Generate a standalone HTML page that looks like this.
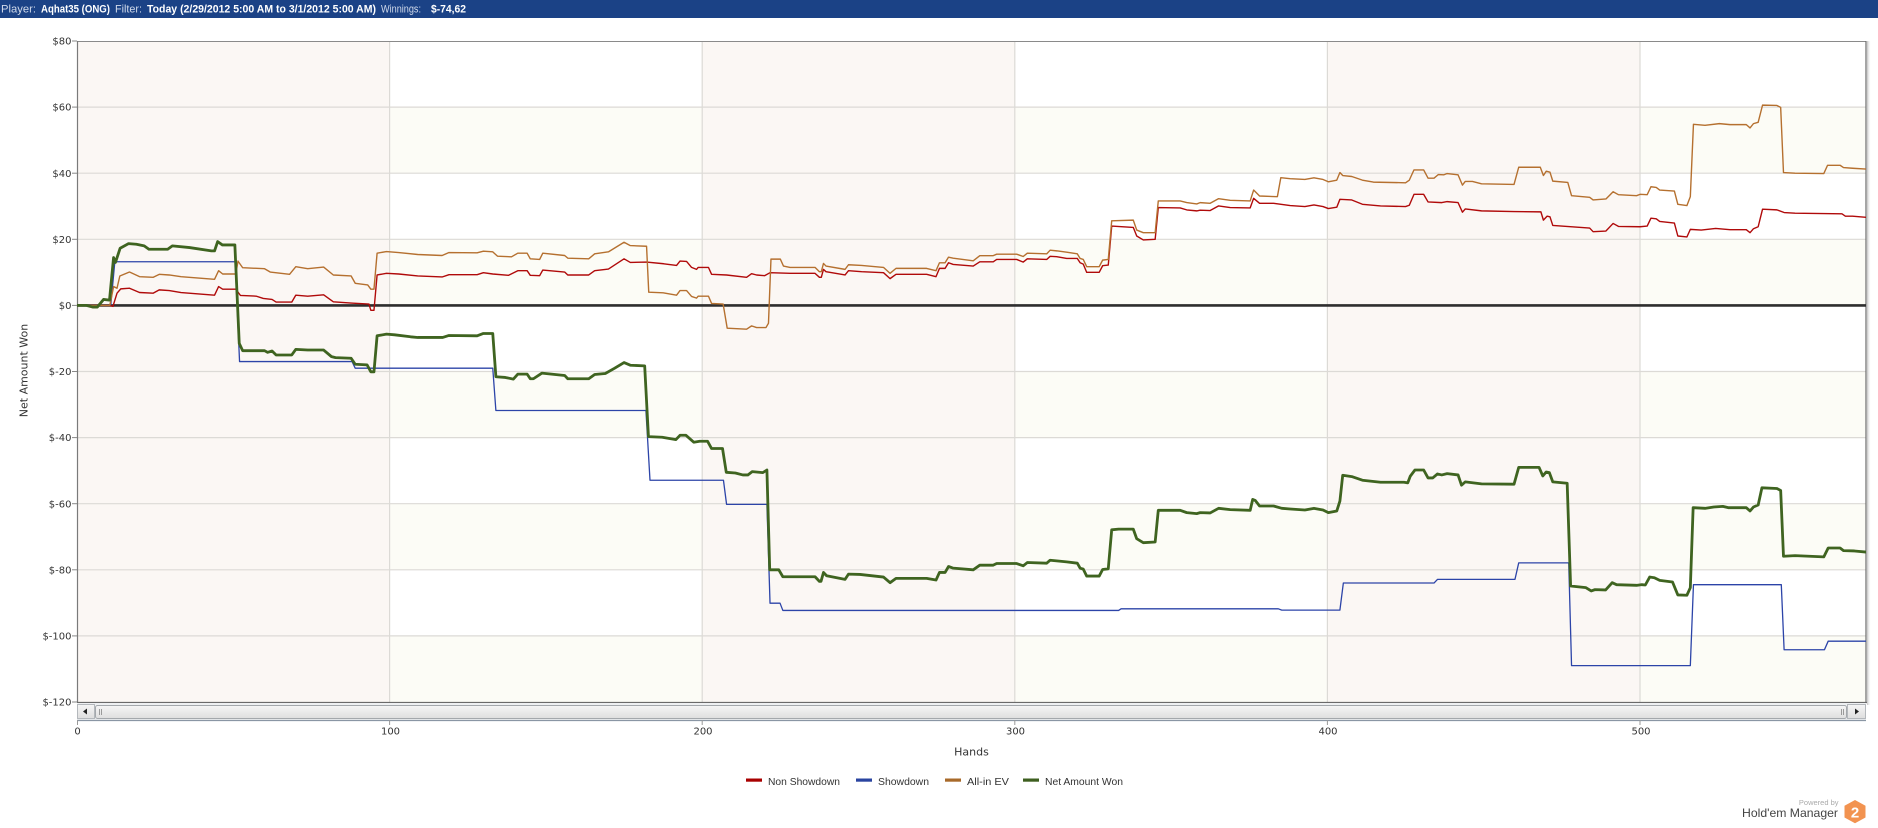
<!DOCTYPE html>
<html><head><meta charset="utf-8"><style>
html,body{margin:0;padding:0;background:#fff;}
svg{display:block;}
</style></head><body>
<svg width="1878" height="828" viewBox="0 0 1878 828" xmlns="http://www.w3.org/2000/svg">
<defs>
<clipPath id="pc"><rect x="77" y="41" width="1789" height="661"/></clipPath>
<linearGradient id="sb" x1="0" y1="0" x2="0" y2="1"><stop offset="0" stop-color="#f6f6f6"/><stop offset="1" stop-color="#dedede"/></linearGradient>
<linearGradient id="sh" x1="0" y1="0" x2="1" y2="0"><stop offset="0" stop-color="#999" stop-opacity="0.6"/><stop offset="1" stop-color="#fff" stop-opacity="0"/></linearGradient>
</defs>
<rect width="1878" height="828" fill="#fff"/>
<!-- header -->
<rect x="0" y="0" width="1878" height="18" fill="#1b4286"/>
<g font-family="Liberation Sans, Arial, sans-serif" font-size="11">
<text x="1" y="12.5" fill="#d0d9ea" textLength="35" lengthAdjust="spacingAndGlyphs">Player:</text>
<text x="41" y="12.5" fill="#fff" font-weight="bold" textLength="69" lengthAdjust="spacingAndGlyphs">Aqhat35 (ONG)</text>
<text x="115" y="12.5" fill="#d0d9ea" textLength="27" lengthAdjust="spacingAndGlyphs">Filter:</text>
<text x="147" y="12.5" fill="#fff" font-weight="bold" textLength="229" lengthAdjust="spacingAndGlyphs">Today (2/29/2012 5:00 AM to 3/1/2012 5:00 AM)</text>
<text x="381" y="12.5" fill="#d0d9ea" textLength="40" lengthAdjust="spacingAndGlyphs">Winnings:</text>
<text x="431" y="12.5" fill="#fff" font-weight="bold" textLength="35" lengthAdjust="spacingAndGlyphs">$-74,62</text>
</g>
<!-- plot backgrounds -->
<g>
<rect x="77" y="41" width="312.6" height="661" fill="#fbf7f4"/>
<rect x="702.2" y="41" width="312.6" height="661" fill="#fbf7f4"/>
<rect x="1327.4" y="41" width="312.6" height="661" fill="#fbf7f4"/>
<g fill="#fcfcf6">
<rect x="389.6" y="107.1" width="312.6" height="66.1"/><rect x="389.6" y="239.3" width="312.6" height="66.1"/><rect x="389.6" y="371.5" width="312.6" height="66.1"/><rect x="389.6" y="503.7" width="312.6" height="66.1"/><rect x="389.6" y="635.9" width="312.6" height="66.1"/>
<rect x="1014.8" y="107.1" width="312.6" height="66.1"/><rect x="1014.8" y="239.3" width="312.6" height="66.1"/><rect x="1014.8" y="371.5" width="312.6" height="66.1"/><rect x="1014.8" y="503.7" width="312.6" height="66.1"/><rect x="1014.8" y="635.9" width="312.6" height="66.1"/>
<rect x="1640" y="107.1" width="226" height="66.1"/><rect x="1640" y="239.3" width="226" height="66.1"/><rect x="1640" y="371.5" width="226" height="66.1"/><rect x="1640" y="503.7" width="226" height="66.1"/><rect x="1640" y="635.9" width="226" height="66.1"/>
</g>
</g>
<!-- gridlines -->
<g stroke="#dcdad6" stroke-width="1.2">
<line x1="77" x2="1866" y1="107.1" y2="107.1"/><line x1="77" x2="1866" y1="173.2" y2="173.2"/><line x1="77" x2="1866" y1="239.3" y2="239.3"/><line x1="77" x2="1866" y1="371.5" y2="371.5"/><line x1="77" x2="1866" y1="437.6" y2="437.6"/><line x1="77" x2="1866" y1="503.7" y2="503.7"/><line x1="77" x2="1866" y1="569.8" y2="569.8"/><line x1="77" x2="1866" y1="635.9" y2="635.9"/>
<line x1="389.6" x2="389.6" y1="41" y2="702"/><line x1="702.2" x2="702.2" y1="41" y2="702"/><line x1="1014.8" x2="1014.8" y1="41" y2="702"/><line x1="1327.4" x2="1327.4" y1="41" y2="702"/><line x1="1640" x2="1640" y1="41" y2="702"/>
</g>
<!-- axes border -->
<line x1="77" x2="1866" y1="41.5" y2="41.5" stroke="#8a8a8a" stroke-width="1"/>
<line x1="77.5" x2="77.5" y1="41" y2="702" stroke="#7a7a7a" stroke-width="1.2"/>
<rect x="1867" y="41" width="4" height="664" fill="url(#sh)"/>
<line x1="1866" x2="1866" y1="41" y2="703" stroke="#6a6a6a" stroke-width="1.2"/>
<line x1="77" x2="1867" y1="702.5" y2="702.5" stroke="#6a6a6a" stroke-width="1.2"/>
<!-- zero line -->
<line x1="77" x2="1866" y1="305.4" y2="305.4" stroke="#2e2e2e" stroke-width="2.6"/>
<!-- series -->
<g clip-path="url(#pc)">
<g transform="matrix(3.126 0 0 -3.305 77 305.4)" fill="none" stroke-linejoin="round">
<polyline vector-effect="non-scaling-stroke" stroke="#2c44a8" stroke-width="1.3" points="0,0 10.8,0 12.1,13.2 50.6,13.2 52,-17 88,-17 89,-19 133,-19 134,-31.8 182,-31.8 183.3,-52.9 206.8,-52.9 207.8,-60.2 220.7,-60.2 221.7,-90.1 224.9,-90.1 225.8,-92.3 333.2,-92.3 334,-91.8 384.3,-91.8 385.4,-92.2 404,-92.2 405.1,-84 434.1,-84 435.2,-82.9 460,-82.9 461.2,-77.9 477.2,-77.9 478.1,-109 516.1,-109 517.1,-84.5 545.2,-84.5 546.1,-104.2 559,-104.2 560.2,-101.6 573,-101.6"/>
<polyline vector-effect="non-scaling-stroke" stroke="#b00a0a" stroke-width="1.4" points="0,0 10.5,0 11.5,-0.3 12.8,3.7 14,5 16.8,5.2 20,3.9 24.4,3.7 26.3,4.7 29.5,4.5 33.3,3.9 44,3.1 45.3,5.7 46.6,4.9 50.8,4.9 52.3,3 57.3,2.8 59.6,2.1 62.4,1.8 63.7,1 68.7,1 70,3.1 73.8,2.8 78.9,3.2 82,1.1 87.7,0.7 93.4,0.4 94,-1.5 95,-1.5 96,9.2 99,9.7 102.9,9.5 109,8.9 116.8,8.6 119,9.3 128,9.3 130,9.9 133,9.5 138,9.1 141,10.5 144,10.5 145,9.1 148,9 149,10.7 156,10.1 157,9.2 163.7,9.2 165.6,10.5 170,11 175,14.1 177,13 182.2,13.1 187.7,12.6 191.8,12.1 192.9,13.4 195,13.3 196.6,11.5 198.2,10.9 198.7,11.5 202,11.5 203,9.4 207.8,9.2 214.2,8.5 215.8,9.6 217.4,9.2 220,9 221.7,9.9 228.1,9.7 236.1,9.7 237.5,8.5 238.1,8.5 238.8,10.9 239.6,10.2 245.7,9.2 246.8,10.5 251,10.2 258,9.9 260.1,8.1 262,9.4 271.8,9.4 274.8,8.7 275.9,11.2 277.7,11.2 278.8,12.9 280.3,12.4 286.7,11.9 288.8,13.2 293.1,13.2 294.2,13.9 300.6,13.9 302.7,13.1 304,14.1 310.2,13.9 311.3,14.85 313.4,14.75 316.6,14.2 320,14.2 320.9,12.9 321.9,12.5 323,10 327,10 328.1,12 329.9,12.2 331,24 337.9,23.6 339,21 341.1,19.8 344.9,20 345.9,29.6 352.9,29.5 355,28.9 358.2,28.6 359.3,28.8 362.5,28.7 365.2,30.1 368.9,29.6 375.3,29.5 376.4,32.4 378.3,30.9 382.8,30.9 388.1,30.2 392.8,29.9 395.7,30.4 398.6,29.9 400.3,29.3 403,29.7 404,32.1 407.8,31.9 411.2,30.6 417,30.1 425,29.9 426.2,30.3 427.7,33.6 430.8,33.6 432.2,31.3 436.6,31.1 438.3,31.4 441.8,31.1 443.2,28.2 444.1,29.2 449.3,28.6 459.7,28.4 468.3,28.3 469.1,25.8 470.3,27 471.2,26.8 472.1,24.2 483.9,23.4 485,22.3 489.1,22.5 491.4,24.8 493.1,23.9 500,23.8 502.3,24 503.5,26.4 505.2,26.2 506.3,25.4 511,24.9 512.1,21 515,20.7 516.1,23 519.6,22.8 524.2,23.3 528.8,22.9 534,22.9 535.2,22 536.3,23.2 537.8,23.8 539.2,29.1 543.8,28.9 546.1,28.1 549.6,27.9 564.6,27.7 565.7,27 568,27 573,26.6"/>
<polyline vector-effect="non-scaling-stroke" stroke="#b5702f" stroke-width="1.4" points="0,0 10.5,0 11.7,5.7 12.8,5.2 13.7,8.9 16.8,10.1 20,8.7 24.4,8.5 26.3,9.4 29.5,9.2 33.3,8.7 44,7.9 45.3,10.5 46.6,9.5 50.8,9.5 51.5,13.4 53,11.4 60,11.1 61.8,10.1 68,9.4 70,11.7 73.8,11.1 78.9,11.6 82,9.2 87.7,8.9 89,6.7 93,6.2 94,4.9 95,4.9 96,15.8 99,16.3 102.9,16 109,15.4 116.8,15.1 119,16 128,15.9 130,16.4 133,16.2 134.5,14.9 139,14.7 141,15.8 144,15.8 145,14.1 148,13.9 149,15.8 156,15.1 157,14.3 163.7,14.1 165.6,15.6 170,16.2 175,19.1 177,18.1 182.2,17.9 182.9,4 187.5,3.8 191.8,3.1 192.9,4.5 195,4.5 196.6,2.7 198.2,2.2 198.7,2.8 202,2.8 203,0.6 206.7,0.4 208,-6.9 214.2,-7.2 215.8,-6.2 217.4,-6.7 220.4,-6.7 221.2,-5.4 222,14 225,14 226,11.9 228.1,11.5 236.1,11.5 237.5,10.2 238.1,10.2 238.8,12.7 239.6,11.9 245.7,10.9 246.8,12.3 251,12.1 258,11.5 260.1,9.7 262,11.2 271.8,11.2 274.8,10.5 275.9,12.9 277.7,12.9 278.8,14.6 280.3,14.3 286.7,13.5 288.8,15.05 293.1,15.05 294.2,15.5 300.6,15.5 302.7,14.8 304,15.8 310.2,15.6 311.3,16.7 313.4,16.5 316.6,16.1 320,15.6 320.9,14.2 321.9,13.9 323,11.7 327,11.7 328.1,13.7 329.9,13.9 331,25.6 337.9,25.8 339,22.8 341.1,22 344.9,22 345.9,31.6 352.9,31.6 355,31.1 358.2,30.7 359.3,31.1 362.5,30.9 365.2,32.3 368.9,31.8 375.3,31.6 376.4,34.9 378.3,33.1 384,32.9 385.1,38.65 388.1,38.35 392.8,38.1 395.7,38.6 398.6,38.1 400.3,37.4 403,37.9 404,40.2 404.9,39.3 407.8,39 411.2,37.9 414.7,37.3 425,37.1 426.2,37.9 427.7,41 430.8,41 432.2,38.5 434.1,38.5 435.5,39.6 437.2,39.5 438.3,39.9 441.8,39.5 443.2,36.4 444.1,37.5 446.4,37.5 449.3,36.8 459.7,36.6 461.2,41.8 468.1,41.8 469.1,39.3 470,40.6 471.2,40.3 472.1,37.6 476.9,37.2 478.1,33.2 483.9,32.7 485,31.9 489.1,32.2 491.4,34.4 493.1,33.5 498.9,33.2 500,33.6 502.3,33.5 503.5,35.9 505.2,35.7 506.3,34.9 511,34.6 512.1,30.6 515,30.2 516.1,32.9 517.1,54.8 520.8,54.5 525.4,55 528.8,54.7 534,54.7 535.2,53.7 536.3,55 537.8,55.4 539.2,60.6 543.8,60.5 545,59.9 545.9,40.2 549.6,40 558.8,39.9 560,42.4 564,42.4 565.1,41.7 568,41.5 573,41.2"/>
<polyline vector-effect="non-scaling-stroke" stroke="#3f6420" stroke-width="2.8" points="0,0 3,0 5,-0.5 6.5,-0.5 8.5,1.8 10.4,1.6 11.7,14.5 12.3,13 13.8,17.3 16.5,18.7 19,18.5 21.5,18 23,17 29,17 30.5,18 36,17.5 43,16.5 44,16.5 45,19.3 46.5,18.3 50.5,18.3 51.9,-11.5 53,-13.7 60,-13.7 61,-14.2 62.4,-13.8 63.7,-15 68.7,-15 70,-13.3 73.8,-13.5 78.9,-13.5 81.4,-15.5 82.7,-15.8 87.7,-16 89,-17.8 92.8,-18 94,-20.1 95,-20.1 96,-9.2 99,-8.7 101.6,-8.9 106.7,-9.5 109,-9.7 117,-9.7 119,-9.1 128,-9.2 130,-8.5 133,-8.5 134,-21.6 137,-21.8 139.6,-22.3 141,-20.8 144,-20.8 145,-22.2 146,-22.2 148.7,-20.5 156,-21.2 157,-22.2 163.7,-22.2 165.6,-20.9 169,-20.6 172,-19 175,-17.3 177,-18.1 181.6,-18.3 182.8,-39.7 187.2,-39.9 191.6,-40.6 192.9,-39.3 194.8,-39.3 197.3,-41.4 199.2,-41.1 201.7,-41.1 203,-43.3 206.5,-43.3 207.7,-50.5 210.6,-50.7 213,-51.3 214.6,-51.3 216,-50.3 219.4,-50.6 220.7,-49.8 221.6,-80 224.5,-80 225.8,-82.1 236.1,-82.1 237.5,-83.5 238,-83.5 238.8,-80.8 239.8,-81.8 245.7,-82.9 246.8,-81.3 250.5,-81.4 258,-82.2 260.1,-83.9 262,-82.6 271.8,-82.6 274.8,-83.1 275.9,-80.8 277.7,-80.8 278.8,-79 280.3,-79.5 286.7,-80 288.8,-78.6 293.1,-78.6 294.2,-78.1 300.6,-78.1 302.7,-78.8 304,-77.8 310.2,-78 311.3,-77.1 313.4,-77.3 316.6,-77.6 320,-78 320.9,-79.5 321.9,-79.8 323,-81.9 327,-81.9 328.1,-79.9 329.9,-79.7 331,-67.9 333.2,-67.7 337.9,-67.7 339,-70.6 341.1,-71.8 344.9,-71.6 345.9,-62 352.9,-62 355,-62.7 358.2,-63 359.3,-62.7 362.5,-62.8 365.2,-61.4 368.9,-61.8 375.3,-62 376.1,-58.7 376.9,-59 378.3,-60.7 382.8,-60.7 385.4,-61.4 388.1,-61.6 392.8,-61.9 395.7,-61.4 398.6,-61.9 400.3,-62.7 403,-62.2 404,-59.2 404.9,-51.4 407.8,-51.8 411.2,-52.9 417,-53.5 424.5,-53.5 425.7,-53.7 426.5,-51.7 428,-49.8 430.8,-49.8 432.2,-52.2 433.7,-52.2 435.2,-51 436.6,-51.3 438.3,-50.9 441.8,-51.3 442.9,-54.4 444.1,-53.4 449.3,-54 459.7,-54.1 461.2,-49 467.7,-49 468.9,-51.6 470,-50.4 471,-50.6 472.1,-53.4 476.7,-53.8 477.8,-84.9 482.7,-85.4 484.4,-86.4 485.6,-86 489,-86.1 491.1,-83.9 492.5,-84.5 498.9,-84.7 500.6,-84.5 501.7,-84.6 503.1,-82.2 504.6,-82.4 506.3,-83.2 510.4,-83.7 512.1,-87.6 515,-87.7 516.1,-85.4 517,-61.2 520.8,-61.4 523.6,-61 526.5,-60.8 528.2,-61.2 534,-61.2 535.2,-62.2 536.3,-61 537.8,-60.4 539,-55.2 543.8,-55.4 545,-56 545.9,-75.9 549.6,-75.7 558.8,-76.1 560.2,-73.4 564,-73.4 565.1,-74.2 568.6,-74.3 573,-74.7"/>
</g>
</g>
<!-- y ticks & labels -->
<g stroke="#888" stroke-width="1">
<line x1="72" x2="77" y1="41" y2="41"/><line x1="72" x2="77" y1="107.1" y2="107.1"/><line x1="72" x2="77" y1="173.2" y2="173.2"/><line x1="72" x2="77" y1="239.3" y2="239.3"/><line x1="72" x2="77" y1="305.4" y2="305.4"/><line x1="72" x2="77" y1="371.5" y2="371.5"/><line x1="72" x2="77" y1="437.6" y2="437.6"/><line x1="72" x2="77" y1="503.7" y2="503.7"/><line x1="72" x2="77" y1="569.8" y2="569.8"/><line x1="72" x2="77" y1="635.9" y2="635.9"/><line x1="72" x2="77" y1="702" y2="702"/>
</g>
<g font-family="DejaVu Sans, Verdana, sans-serif" font-size="10" fill="#333" text-anchor="end">
<text x="71.5" y="44.6">$80</text><text x="71.5" y="110.7">$60</text><text x="71.5" y="176.8">$40</text><text x="71.5" y="242.9">$20</text><text x="71.5" y="309">$0</text><text x="71.5" y="375.1">$-20</text><text x="71.5" y="441.2">$-40</text><text x="71.5" y="507.3">$-60</text><text x="71.5" y="573.4">$-80</text><text x="71.5" y="639.5">$-100</text><text x="71.5" y="705.6">$-120</text>
</g>
<text transform="translate(27.5,370.5) rotate(-90)" font-family="DejaVu Sans, Verdana, sans-serif" font-size="11" fill="#333" text-anchor="middle">Net Amount Won</text>
<!-- scrollbar -->
<rect x="77" y="703" width="1789" height="17" fill="#eef0f2"/>
<rect x="77.5" y="704.5" width="17" height="14" fill="url(#sb)" stroke="#b4b8bc" stroke-width="1"/>
<polygon points="83,711.5 87,708.5 87,714.5" fill="#222"/>
<rect x="95.5" y="705.5" width="1751" height="13" rx="2" fill="url(#sb)" stroke="#a4a8ac" stroke-width="1"/>
<g stroke="#9a9a9a" stroke-width="1"><line x1="99.5" x2="99.5" y1="709" y2="715"/><line x1="101.5" x2="101.5" y1="709" y2="715"/><line x1="1841.5" x2="1841.5" y1="709" y2="715"/><line x1="1843.5" x2="1843.5" y1="709" y2="715"/></g>
<rect x="1847.5" y="704.5" width="18" height="14" fill="url(#sb)" stroke="#b4b8bc" stroke-width="1"/>
<polygon points="1859,711.5 1855,708.5 1855,714.5" fill="#222"/>
<line x1="77" x2="1866" y1="720.5" y2="720.5" stroke="#8a96a4" stroke-width="1.2"/>
<!-- x ticks & labels -->
<g stroke="#999" stroke-width="1">
<line x1="77.5" x2="77.5" y1="720" y2="725"/><line x1="389.6" x2="389.6" y1="720" y2="725"/><line x1="702.2" x2="702.2" y1="720" y2="725"/><line x1="1014.8" x2="1014.8" y1="720" y2="725"/><line x1="1327.4" x2="1327.4" y1="720" y2="725"/><line x1="1640" x2="1640" y1="720" y2="725"/>
</g>
<g font-family="DejaVu Sans, Verdana, sans-serif" font-size="10" fill="#333" text-anchor="middle">
<text x="77.5" y="734.5">0</text><text x="390.5" y="734.5">100</text><text x="703" y="734.5">200</text><text x="1015.5" y="734.5">300</text><text x="1328" y="734.5">400</text><text x="1641" y="734.5">500</text>
</g>
<text x="971.5" y="755.5" font-family="DejaVu Sans, Verdana, sans-serif" font-size="11" fill="#333" text-anchor="middle">Hands</text>
<!-- legend -->
<rect x="746" y="778.5" width="16" height="3.2" fill="#a80000"/>
<rect x="856" y="778.5" width="16" height="3.2" fill="#2a44a0"/>
<rect x="945" y="778.5" width="16" height="3.2" fill="#a86a2a"/>
<rect x="1023" y="778.5" width="16" height="3.2" fill="#3e5f20"/>
<g font-family="Liberation Sans, Arial, sans-serif" font-size="10.2" fill="#333">
<text x="768" y="785" textLength="72" lengthAdjust="spacingAndGlyphs">Non Showdown</text>
<text x="878" y="785" textLength="51" lengthAdjust="spacingAndGlyphs">Showdown</text>
<text x="967" y="785" textLength="42" lengthAdjust="spacingAndGlyphs">All-in EV</text>
<text x="1045" y="785" textLength="78" lengthAdjust="spacingAndGlyphs">Net Amount Won</text>
</g>
<!-- powered by -->
<text x="1838.5" y="805" font-family="Liberation Sans, Arial, sans-serif" font-size="7.5" fill="#aaa" text-anchor="end">Powered by</text>
<text x="1742" y="816.8" font-family="Liberation Sans, Arial, sans-serif" font-size="12" fill="#444" textLength="96" lengthAdjust="spacingAndGlyphs">Hold'em Manager</text>
<polygon points="1855,800 1865.5,805.8 1865.5,817.5 1855,823.3 1844.5,817.5 1844.5,805.8" fill="#f29350"/>
<text x="1855" y="817.5" font-family="Liberation Sans, Arial, sans-serif" font-size="15" font-weight="bold" fill="#fff" text-anchor="middle">2</text>
</svg>
</body></html>
